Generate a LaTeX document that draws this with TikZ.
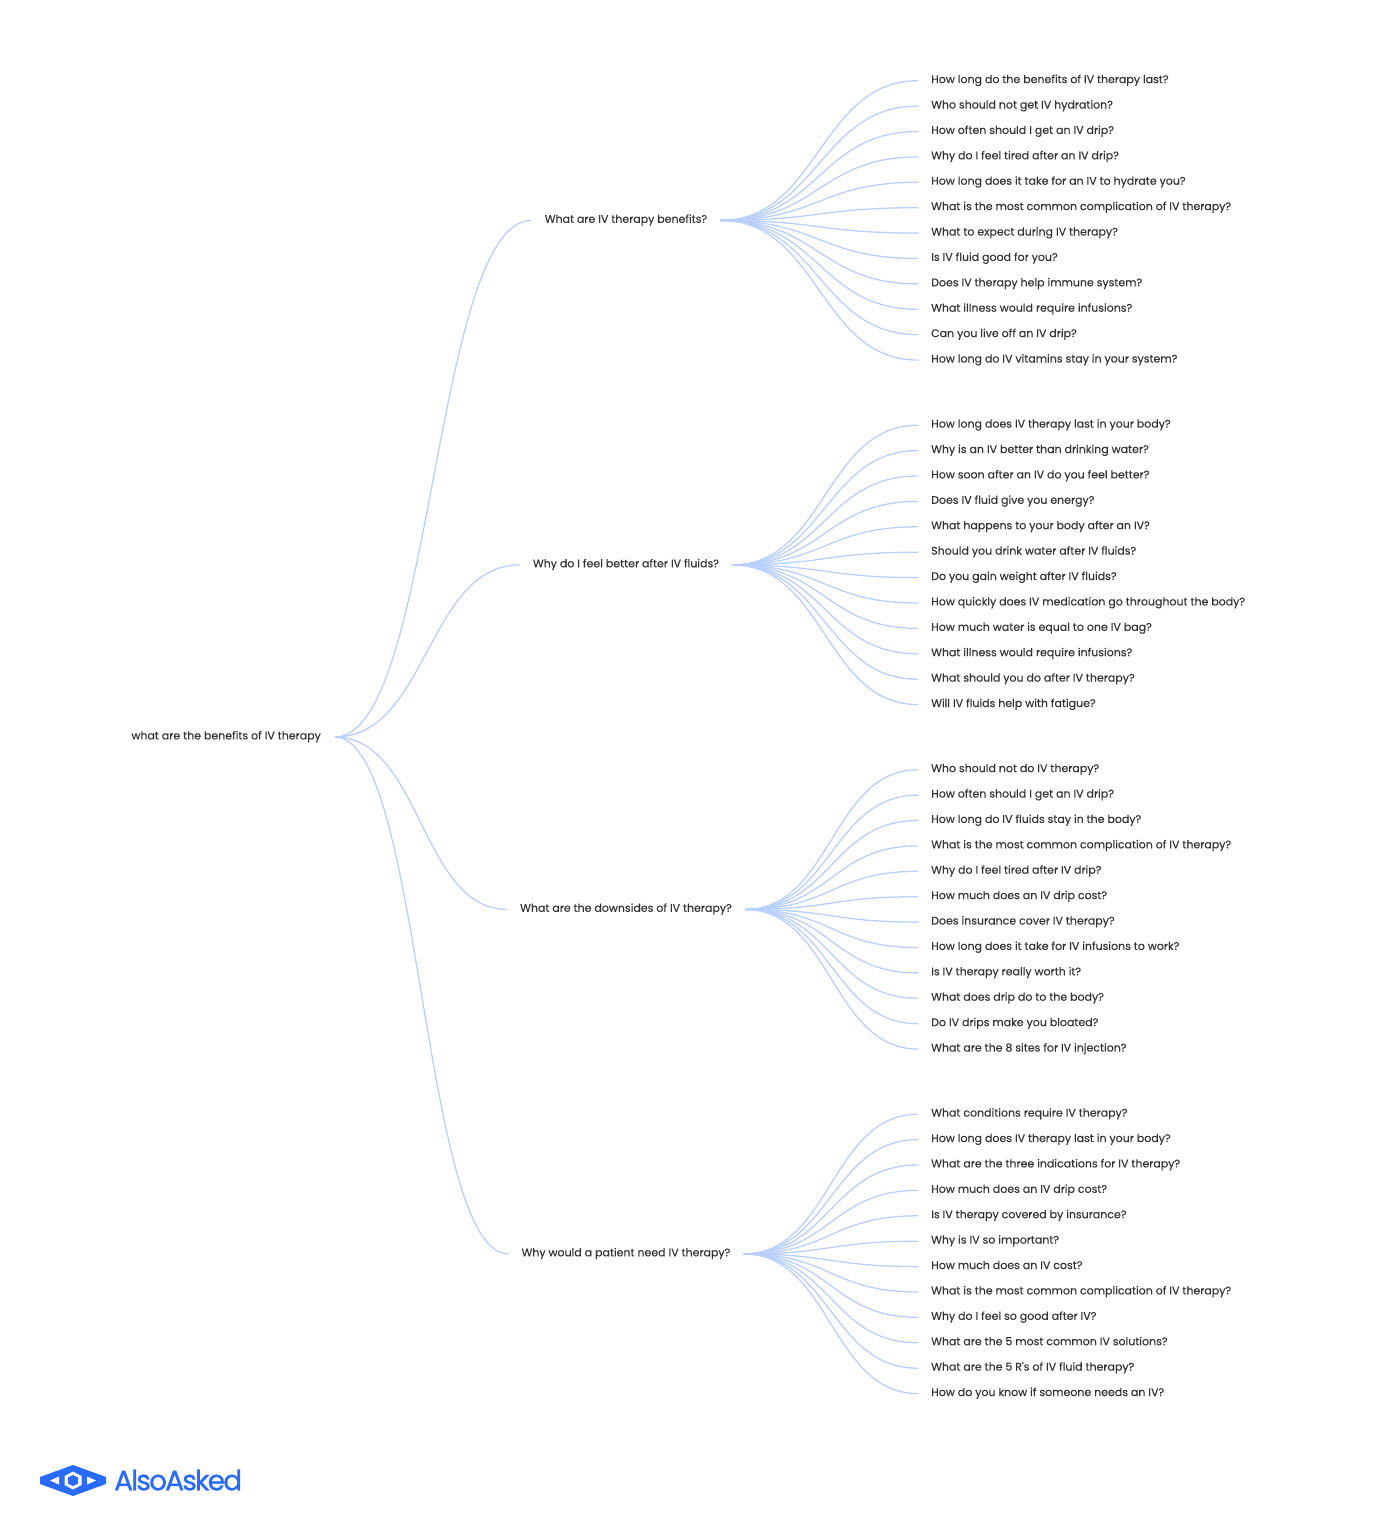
\documentclass[tikz,border=0pt]{standalone}
\usepackage{fontspec}
\setmainfont[FakeBold=0.12,Ligatures=TeXOff]{Poppins}
\newfontfamily\logofont[FakeBold=0.9,LetterSpace=-6.5]{Poppins}
\usetikzlibrary{calc}
\definecolor{linkblue}{HTML}{B9CFFF}
\definecolor{logoblue}{HTML}{2A6BFF}
\definecolor{textgray}{HTML}{333333}

\begin{document}
\begin{tikzpicture}[
    x=1pt,
    y=-1pt,
    font=\fontsize{11}{14}\selectfont,
    text=textgray
]
\tikzset{
    rootnode/.style = {anchor=east, inner xsep=14pt, inner ysep=0pt, text height=9.2pt, text depth=4.4pt},
    midnode/.style = {anchor=center, inner xsep=13pt, inner ysep=0pt, text height=9.2pt, text depth=4.4pt},
    leafnode/.style = {anchor=west, inner xsep=13pt, inner ysep=0pt, text height=9.2pt, text depth=4.4pt},
    edgen/.style = {linkblue, line width=1.3pt, to path={
        let \p1=(\tikztostart), \p2=(\tikztotarget) in
        .. controls ({0.5*(\x1+\x2)},\y1) and ({0.5*(\x1+\x2)},\y2) .. (\tikztotarget)}}
}
\useasboundingbox (0,0) rectangle (1379,1529);
% root and the four questions
\node[rootnode] at (335,737) (root) {what are the benefits of IV therapy};
\node[midnode] at (626,220.4) (qa) {What are IV therapy benefits?};
\node[midnode] at (626,564.9) (qb) {Why do I feel better after IV fluids?};
\node[midnode] at (626,909.4) (qc) {What are the downsides of IV therapy?};
\node[midnode] at (626,1253.9) (qd) {Why would a patient need IV therapy?};
% first group
\node[leafnode] at (918,80.7) (a1) {How long do the benefits of IV therapy last?};
\node[leafnode] at (918,106.1) (a2) {Who should not get IV hydration?};
\node[leafnode] at (918,131.5) (a3) {How often should I get an IV drip?};
\node[leafnode] at (918,156.9) (a4) {Why do I feel tired after an IV drip?};
\node[leafnode] at (918,182.3) (a5) {How long does it take for an IV to hydrate you?};
\node[leafnode] at (918,207.7) (a6) {What is the most common complication of IV therapy?};
\node[leafnode] at (918,233.1) (a7) {What to expect during IV therapy?};
\node[leafnode] at (918,258.5) (a8) {Is IV fluid good for you?};
\node[leafnode] at (918,283.9) (a9) {Does IV therapy help immune system?};
\node[leafnode] at (918,309.3) (a10) {What illness would require infusions?};
\node[leafnode] at (918,334.7) (a11) {Can you live off an IV drip?};
\node[leafnode] at (918,360.1) (a12) {How long do IV vitamins stay in your system?};
% second group
\node[leafnode] at (918,425.2) (b1) {How long does IV therapy last in your body?};
\node[leafnode] at (918,450.6) (b2) {Why is an IV better than drinking water?};
\node[leafnode] at (918,476) (b3) {How soon after an IV do you feel better?};
\node[leafnode] at (918,501.4) (b4) {Does IV fluid give you energy?};
\node[leafnode] at (918,526.8) (b5) {What happens to your body after an IV?};
\node[leafnode] at (918,552.2) (b6) {Should you drink water after IV fluids?};
\node[leafnode] at (918,577.6) (b7) {Do you gain weight after IV fluids?};
\node[leafnode] at (918,603) (b8) {How quickly does IV medication go throughout the body?};
\node[leafnode] at (918,628.4) (b9) {How much water is equal to one IV bag?};
\node[leafnode] at (918,653.8) (b10) {What illness would require infusions?};
\node[leafnode] at (918,679.2) (b11) {What should you do after IV therapy?};
\node[leafnode] at (918,704.6) (b12) {Will IV fluids help with fatigue?};
% third group
\node[leafnode] at (918,769.7) (c1) {Who should not do IV therapy?};
\node[leafnode] at (918,795.1) (c2) {How often should I get an IV drip?};
\node[leafnode] at (918,820.5) (c3) {How long do IV fluids stay in the body?};
\node[leafnode] at (918,845.9) (c4) {What is the most common complication of IV therapy?};
\node[leafnode] at (918,871.3) (c5) {Why do I feel tired after IV drip?};
\node[leafnode] at (918,896.7) (c6) {How much does an IV drip cost?};
\node[leafnode] at (918,922.1) (c7) {Does insurance cover IV therapy?};
\node[leafnode] at (918,947.5) (c8) {How long does it take for IV infusions to work?};
\node[leafnode] at (918,972.9) (c9) {Is IV therapy really worth it?};
\node[leafnode] at (918,998.3) (c10) {What does drip do to the body?};
\node[leafnode] at (918,1023.7) (c11) {Do IV drips make you bloated?};
\node[leafnode] at (918,1049.1) (c12) {What are the 8 sites for IV injection?};
% fourth group
\node[leafnode] at (918,1114.2) (d1) {What conditions require IV therapy?};
\node[leafnode] at (918,1139.6) (d2) {How long does IV therapy last in your body?};
\node[leafnode] at (918,1165) (d3) {What are the three indications for IV therapy?};
\node[leafnode] at (918,1190.4) (d4) {How much does an IV drip cost?};
\node[leafnode] at (918,1215.8) (d5) {Is IV therapy covered by insurance?};
\node[leafnode] at (918,1241.2) (d6) {Why is IV so important?};
\node[leafnode] at (918,1266.6) (d7) {How much does an IV cost?};
\node[leafnode] at (918,1292) (d8) {What is the most common complication of IV therapy?};
\node[leafnode] at (918,1317.4) (d9) {Why do I feel so good after IV?};
\node[leafnode] at (918,1342.8) (d10) {What are the 5 most common IV solutions?};
\node[leafnode] at (918,1368.2) (d11) {What are the 5 R's of IV fluid therapy?};
\node[leafnode] at (918,1393.6) (d12) {How do you know if someone needs an IV?};
% links
\draw[edgen] (root.east) to (qa.west);
\draw[edgen] (root.east) to (qb.west);
\draw[edgen] (root.east) to (qc.west);
\draw[edgen] (root.east) to (qd.west);
\draw[edgen] (qa.east) to (a1.west);
\draw[edgen] (qa.east) to (a2.west);
\draw[edgen] (qa.east) to (a3.west);
\draw[edgen] (qa.east) to (a4.west);
\draw[edgen] (qa.east) to (a5.west);
\draw[edgen] (qa.east) to (a6.west);
\draw[edgen] (qa.east) to (a7.west);
\draw[edgen] (qa.east) to (a8.west);
\draw[edgen] (qa.east) to (a9.west);
\draw[edgen] (qa.east) to (a10.west);
\draw[edgen] (qa.east) to (a11.west);
\draw[edgen] (qa.east) to (a12.west);
\draw[edgen] (qb.east) to (b1.west);
\draw[edgen] (qb.east) to (b2.west);
\draw[edgen] (qb.east) to (b3.west);
\draw[edgen] (qb.east) to (b4.west);
\draw[edgen] (qb.east) to (b5.west);
\draw[edgen] (qb.east) to (b6.west);
\draw[edgen] (qb.east) to (b7.west);
\draw[edgen] (qb.east) to (b8.west);
\draw[edgen] (qb.east) to (b9.west);
\draw[edgen] (qb.east) to (b10.west);
\draw[edgen] (qb.east) to (b11.west);
\draw[edgen] (qb.east) to (b12.west);
\draw[edgen] (qc.east) to (c1.west);
\draw[edgen] (qc.east) to (c2.west);
\draw[edgen] (qc.east) to (c3.west);
\draw[edgen] (qc.east) to (c4.west);
\draw[edgen] (qc.east) to (c5.west);
\draw[edgen] (qc.east) to (c6.west);
\draw[edgen] (qc.east) to (c7.west);
\draw[edgen] (qc.east) to (c8.west);
\draw[edgen] (qc.east) to (c9.west);
\draw[edgen] (qc.east) to (c10.west);
\draw[edgen] (qc.east) to (c11.west);
\draw[edgen] (qc.east) to (c12.west);
\draw[edgen] (qd.east) to (d1.west);
\draw[edgen] (qd.east) to (d2.west);
\draw[edgen] (qd.east) to (d3.west);
\draw[edgen] (qd.east) to (d4.west);
\draw[edgen] (qd.east) to (d5.west);
\draw[edgen] (qd.east) to (d6.west);
\draw[edgen] (qd.east) to (d7.west);
\draw[edgen] (qd.east) to (d8.west);
\draw[edgen] (qd.east) to (d9.west);
\draw[edgen] (qd.east) to (d10.west);
\draw[edgen] (qd.east) to (d11.west);
\draw[edgen] (qd.east) to (d12.west);
% logo
\fill[logoblue] (40,1477) -- (73,1465) -- (106,1477) -- (106,1484) -- (73,1496) -- (40,1484) -- cycle;
\fill[white] (73,1471.5) -- (81.5,1476) -- (81.5,1485) -- (73,1489.5) -- (64.5,1485) -- (64.5,1476) -- cycle;
\fill[logoblue] (73,1475) -- (78,1477.5) -- (78,1483.5) -- (73,1486) -- (68,1483.5) -- (68,1477.5) -- cycle;
\fill[white] (50,1480.5) -- (59,1476.5) -- (59,1484.5) -- cycle;
\fill[white] (96,1480.5) -- (87,1476.5) -- (87,1484.5) -- cycle;
\node[anchor=west, inner sep=0pt, text=logoblue, font=\logofont\fontsize{28}{32}\selectfont] at (114,1480) (logo) {AlsoAsked};
\end{tikzpicture}
\end{document}
